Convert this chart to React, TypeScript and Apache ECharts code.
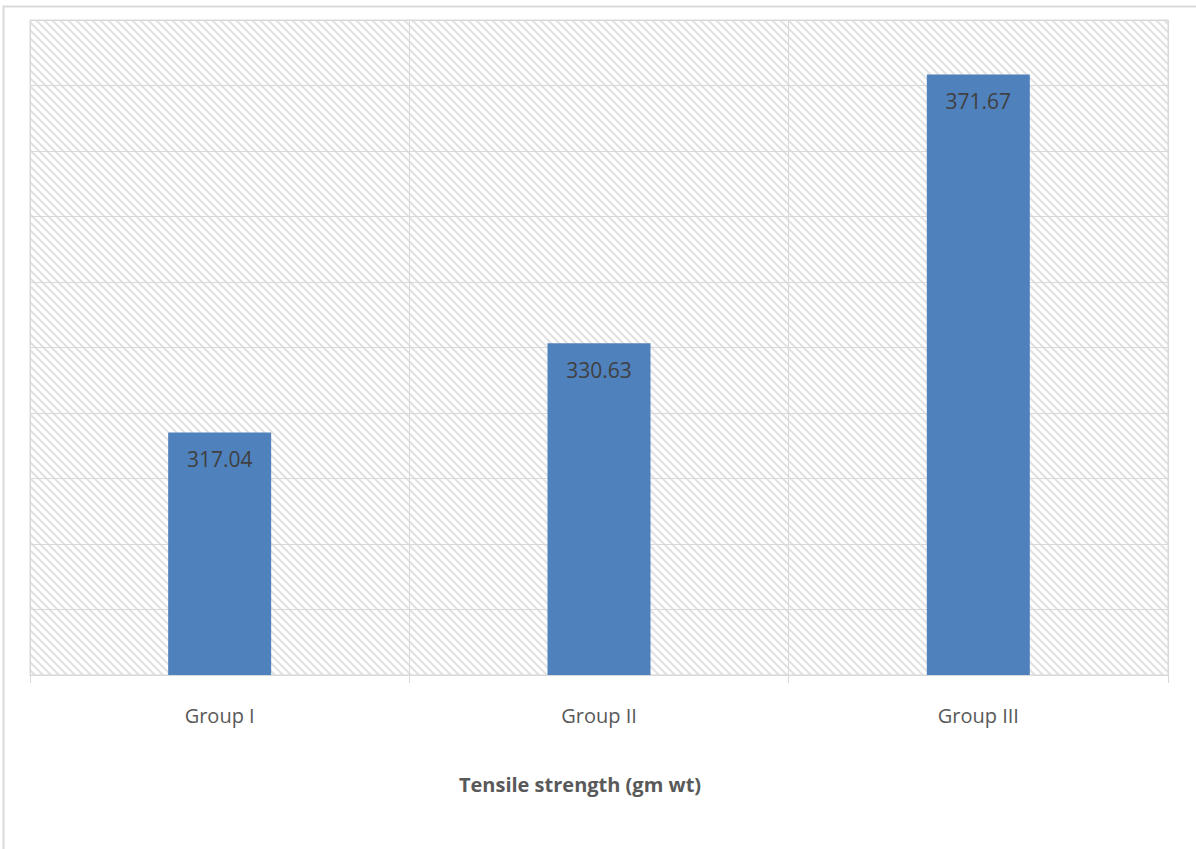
import React, { useEffect, useRef } from "react";
import * as echarts from "echarts";

const categories = ["Group I", "Group II", "Group III"];
const values = [317.04, 330.63, 371.67];
const axisMin = 280;
const axisMax = 380;
const axisStep = 10;
const axisTitle = "Tensile strength (gm wt)";

const hatchSvg =
  "data:image/svg+xml;utf8," +
  encodeURIComponent(
    '<svg xmlns="http://www.w3.org/2000/svg" width="8" height="8">' +
      '<rect width="8" height="8" fill="#ffffff"/>' +
      '<path d="M-2,-2 L10,10 M-2,6 L2,10 M6,-2 L10,2" stroke="#e2e2e2" stroke-width="2.2"/>' +
      "</svg>"
  );

export default function App() {
  const ref = useRef<HTMLDivElement>(null);
  useEffect(() => {
    if (!ref.current) return;
    const chart = echarts.init(ref.current, null, { renderer: "svg" });
    chart.setOption({
      animation: false,
      backgroundColor: "#ffffff",
      textStyle: { fontFamily: "Open Sans" },
      grid: {
        left: 30,
        top: 20,
        right: 28,
        bottom: 174,
        show: true,
        borderColor: "#d9d9d9",
        borderWidth: 1,
        backgroundColor: { image: hatchSvg, repeat: "repeat" } as any,
      },
      graphic: [
        {
          type: "rect",
          shape: { x: 3.5, y: 6.5, width: 1400, height: 1000 },
          style: { fill: "none", stroke: "#d9d9d9", lineWidth: 2 },
          silent: true,
        },
        {
          type: "text",
          x: 580,
          y: 784,
          style: {
            text: axisTitle,
            fontFamily: "Open Sans",
            fontSize: 20,
            fontWeight: "bold",
            fill: "#595959",
            textAlign: "center",
            textVerticalAlign: "middle",
          },
        },
      ],
      xAxis: {
        type: "category",
        data: categories,
        axisLine: { show: true, lineStyle: { color: "#d9d9d9", width: 1 } },
        axisTick: { show: true, length: 8, lineStyle: { color: "#d9d9d9" } },
        axisLabel: { color: "#595959", fontSize: 20, margin: 30, fontFamily: "Open Sans" },
        splitLine: { show: true, lineStyle: { color: "#d9d9d9", width: 1 } },
      },
      yAxis: {
        type: "value",
        min: axisMin,
        max: axisMax,
        interval: axisStep,
        axisLine: { show: false },
        axisTick: { show: false },
        axisLabel: { show: false },
        splitLine: { show: true, lineStyle: { color: "#d9d9d9", width: 1 } },
      },
      series: [
        {
          type: "bar",
          data: values,
          barWidth: 103,
          itemStyle: { color: "#4f81bd" },
          label: {
            show: true,
            position: "insideTop",
            distance: 16,
            color: "#404040",
            fontSize: 21,
            fontFamily: "Open Sans",
            formatter: (p: any) => p.value.toFixed(2),
          },
        },
      ],
    });
    return () => chart.dispose();
  }, []);
  return (
    <div
      ref={ref}
      style={{ position: "absolute", left: 0, top: 0, width: 1196, height: 849 }}
    />
  );
}
